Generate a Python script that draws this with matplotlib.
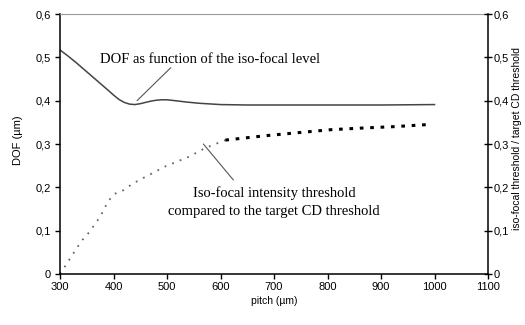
import matplotlib.pyplot as plt
from matplotlib.ticker import FuncFormatter

# DOF (µm) vs pitch
dof_pitch = [300, 315, 330, 345, 360, 375, 390, 400, 410, 420, 430, 440, 450, 460, 470,
             480, 490, 500, 515, 535, 560, 600, 650, 700, 800, 900, 1000]
dof_value = [0.517, 0.503, 0.488, 0.472, 0.456, 0.440, 0.424, 0.413, 0.403, 0.396,
             0.392, 0.391, 0.393, 0.396, 0.399, 0.401, 0.402, 0.402, 0.400, 0.397,
             0.394, 0.391, 0.39, 0.39, 0.39, 0.39, 0.391]

# iso-focal intensity threshold / target CD threshold
thr_pitch = [300, 340, 355, 375, 390, 402, 420, 435, 467, 498, 540, 572, 609, 683, 744, 806, 868, 924, 990]
thr_value = [0.0, 0.076, 0.097, 0.132, 0.168, 0.185, 0.194, 0.208, 0.229, 0.249, 0.27, 0.291, 0.309, 0.319, 0.326, 0.333, 0.337, 0.34, 0.345]

y_ticks = [0, 0.1, 0.2, 0.3, 0.4, 0.5, 0.6]
x_ticks = [300, 400, 500, 600, 700, 800, 900, 1000, 1100]

plt.rcParams["font.family"] = ["Liberation Sans", "DejaVu Sans"]


def comma(v, pos):
    return "0" if abs(v) < 1e-9 else f"{v:.1f}".replace(".", ",")


fig = plt.figure(figsize=(5.25, 3.25), dpi=100)
ax = fig.add_axes([60 / 525, 51 / 325, 428 / 525, 260 / 325])

ax.plot(dof_pitch, dof_value, color="#444444", lw=1.1)

split = thr_pitch.index(609)
ax.plot(thr_pitch[:split + 1], thr_value[:split + 1], color="#666666", lw=1.3,
        ls=(0, (1, 3.5)))
ax.plot(thr_pitch[split:], thr_value[split:], color="black", lw=2.2,
        ls=(0, (1.2, 2.2)))

ax.set_xlim(300, 1100)
ax.set_ylim(0, 0.6)
ax.set_xticks(x_ticks)
ax.set_yticks(y_ticks)
ax.yaxis.set_major_formatter(FuncFormatter(comma))
ax.tick_params(axis="both", direction="out", length=3.5, width=1, labelsize=8, pad=2)
ax.tick_params(axis="y", pad=3)
for s in ["left", "bottom"]:
    ax.spines[s].set_linewidth(1.1)
ax.spines["top"].set_color("#999999")
ax.spines["right"].set_visible(False)

ax2 = ax.twinx()
ax2.set_ylim(0, 0.6)
ax2.set_yticks(y_ticks)
ax2.yaxis.set_major_formatter(FuncFormatter(comma))
ax2.tick_params(axis="y", direction="inout", length=6, width=1, labelsize=8, pad=1)
ax2.spines["right"].set_linewidth(1.1)
for s in ["top", "left", "bottom"]:
    ax2.spines[s].set_visible(False)

ax.set_xlabel("pitch (µm)", fontsize=7.5, labelpad=3)
fig.text(18 / 525, 1 - 140 / 325, "DOF (µm)", rotation=90, fontsize=8,
         ha="center", va="center")
fig.text(517 / 525, 1 - 138 / 325, "iso-focal threshold / target CD threshold",
         rotation=90, fontsize=7.5, ha="center", va="center")

serif = ["Liberation Serif", "DejaVu Serif"]
grey_line = dict(arrowstyle="-", color="#555555", lw=0.8, shrinkA=0, shrinkB=0)

ax.text(580, 0.494, "DOF as function of the iso-focal level", fontsize=10.5,
        family=serif, ha="center", va="center")
ax.annotate("", xy=(444, 0.40), xytext=(507, 0.476), arrowprops=grey_line)

ax.text(700, 0.166, "Iso-focal intensity threshold\ncompared to the target CD threshold",
        fontsize=10.5, family=serif, ha="center", va="center", linespacing=1.45)
ax.annotate("", xy=(568, 0.30), xytext=(624, 0.217), arrowprops=grey_line)

fig.savefig("out.png", dpi=100)
